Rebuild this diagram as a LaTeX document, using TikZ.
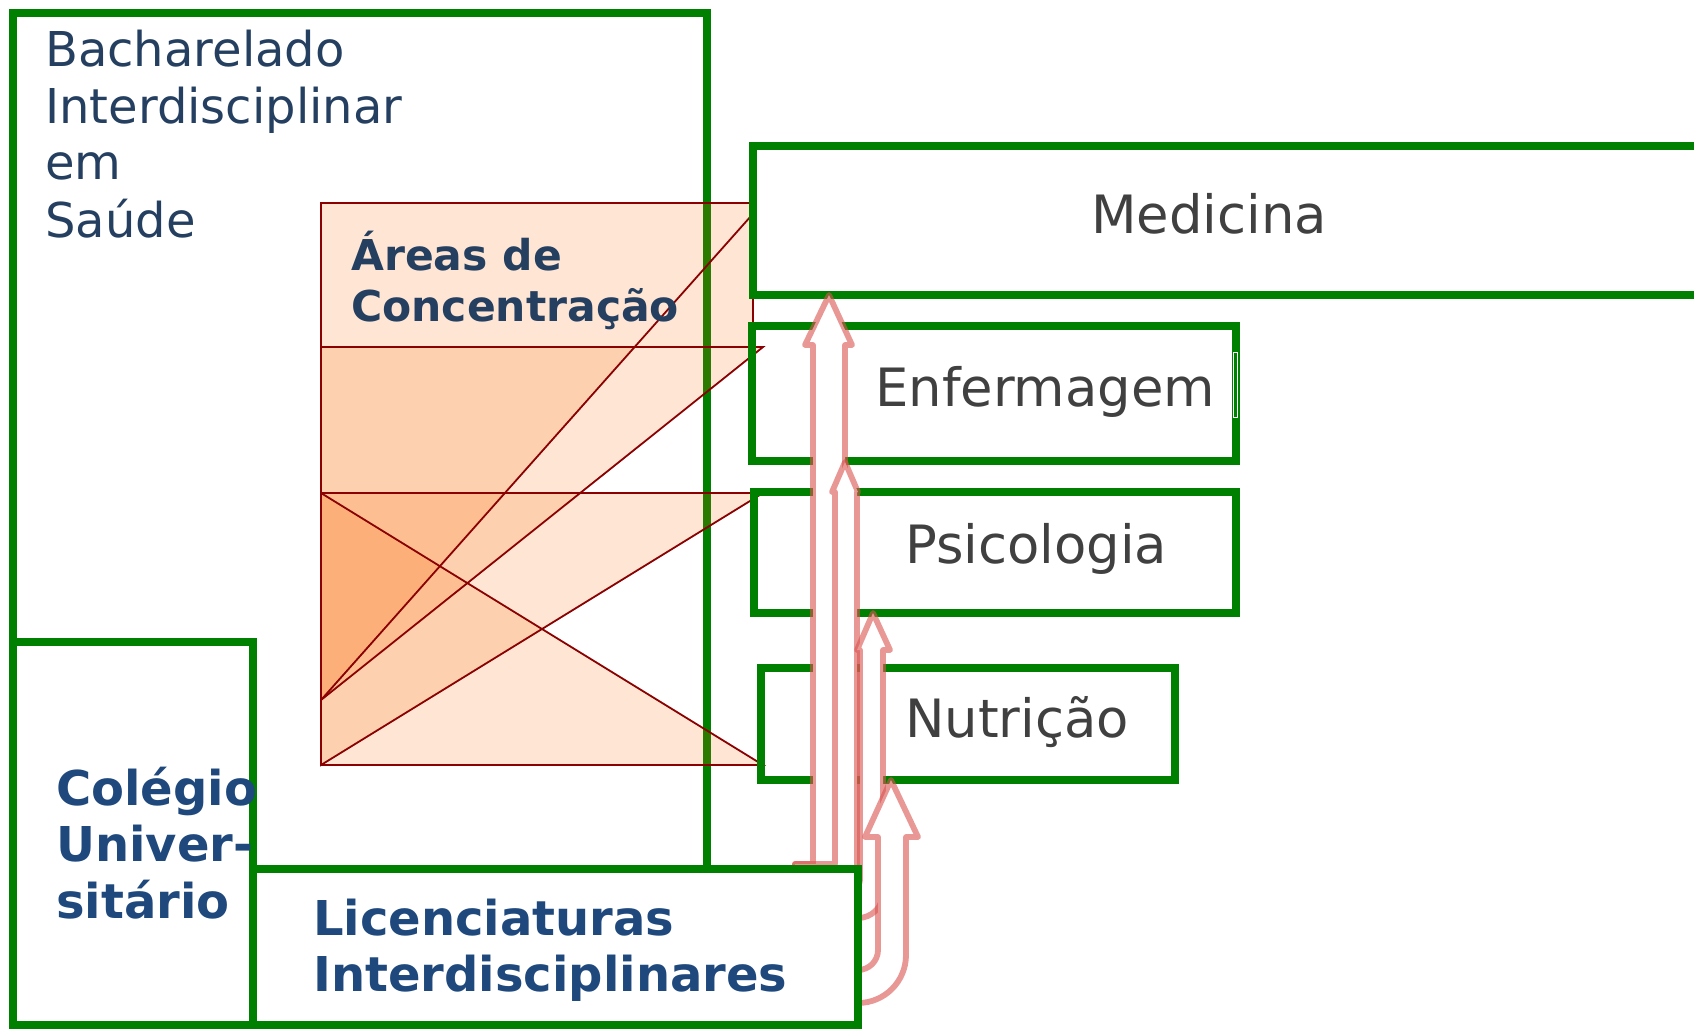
\documentclass[tikz,border=0pt]{standalone}
\usepackage{fontspec}
\setmainfont{DejaVu Sans}
\definecolor{grn}{RGB}{0,128,0}
\definecolor{navy}{RGB}{36,63,96}
\definecolor{blu}{RGB}{31,73,125}
\definecolor{txt}{RGB}{64,64,64}
\definecolor{orng}{RGB}{250,102,0}
\definecolor{edge}{RGB}{139,0,0}
\definecolor{arr}{RGB}{217,83,79}
\begin{document}
\begin{tikzpicture}[x=1pt,y=-1pt,
  gbox/.style={draw=grn,line width=7.5pt},
  lab/.style={anchor=base west,inner sep=0pt,text=txt,font=\fontsize{52.8}{60}\selectfont},
  bis/.style={anchor=base west,inner sep=0pt,text=navy,font=\fontsize{48}{57}\selectfont},
  area/.style={anchor=base west,inner sep=0pt,text=navy,font=\bfseries\fontsize{42.5}{51}\selectfont},
  bl/.style={anchor=base west,inner sep=0pt,text=blu,font=\bfseries\fontsize{48}{56}\selectfont},
  layer/.style={fill=orng,fill opacity=0.17},
  eline/.style={draw=edge,line width=1.8pt,line join=miter},
  arrowshape/.style={draw=arr,draw opacity=0.6,fill=white,line width=5.8pt,line join=round}
]
\useasboundingbox (0,0) rectangle (1694,1029);
\clip (0,0) rectangle (1694,1029);

% Bacharelado box
\draw[gbox] (13,13) rectangle (707,1025);
\node[bis] (b1) at (45,66) {Bacharelado};
\node[bis] (b2) at (45,123) {Interdisciplinar};
\node[bis] (b3) at (45,179) {em};
\node[bis] (b4) at (45,237) {Saúde};

% Areas de concentracao (overlapping translucent layers)
\fill[layer] (321,203) rectangle (753,347);
\fill[layer] (321,347) -- (634.6,347) -- (321,700) -- cycle;
\fill[layer] (321,347) -- (763,347) -- (321,700) -- cycle;
\fill[layer] (321,493) -- (763,493) -- (321,765) -- cycle;
\fill[layer] (321,493) -- (763,765) -- (321,765) -- cycle;
\draw[eline] (321,203) rectangle (753,347);
\draw[eline] (751,216) -- (321,700);
\draw[eline] (321,347) -- (763,347) -- (321,700) -- cycle;
\draw[eline] (321,493) -- (763,493) -- (321,765) -- cycle;
\draw[eline] (321,493) -- (763,765) -- (321,765) -- cycle;
\node[area] (a1) at (351,270) {Áreas de};
\node[area] (a2) at (351,321) {Concentração};

% course boxes
\draw[gbox] (753,146) rectangle (1705,295);
\draw[gbox] (752,326) rectangle (1236,461);
\draw[draw=white,line width=0.8pt] (1233,352) rectangle (1237,417);
\draw[gbox] (754,492) rectangle (1236,613);
\draw[gbox] (761,668) rectangle (1175,780);
\node[lab] (med) at (1091,233) {Medicina};
\node[lab] (enf) at (875,406) {Enfermagem};
\node[lab] (psi) at (905,563) {Psicologia};
\node[lab] (nut) at (905,737) {Nutrição};

% arrows
\draw[arrowshape] (829,295) -- (852,345) -- (845,345) -- (845,905) -- (795,905)
  -- (795,864) -- (813,864) -- (813,345) -- (805,345) -- cycle;
\draw[arrowshape] (845,462) -- (858,492) -- (857,492) -- (857,893) -- (795,893)
  -- (795,864) -- (835,864) -- (835,492) -- (832,492) -- cycle;
\draw[arrowshape] (873,613) -- (890,650) -- (883,650) -- (883,893)
  .. controls (883,906.8) and (871.8,918) .. (858,918) -- (840,918) -- (840,888)
  -- (852,888) .. controls (856.4,888) and (860,884.4) .. (860,880)
  -- (860,650) -- (857,650) -- cycle;
\draw[arrowshape] (891,780) -- (918,837) -- (906,837) -- (906,955)
  .. controls (906,981.5) and (884.5,1003) .. (858,1003) -- (840,1003) -- (840,970)
  -- (858,970) .. controls (869,970) and (878,961) .. (878,950)
  -- (878,837) -- (865,837) -- cycle;

% Colegio and Licenciaturas
\draw[gbox,fill=white] (13,642) rectangle (253,1025);
\draw[gbox,fill=white] (253,869) rectangle (858,1025);
\node[bl] (c1) at (56,805) {Colégio};
\node[bl] (c2) at (56,861) {Univer-};
\node[bl] (c3) at (56,918) {sitário};
\node[bl] (l1) at (313,935) {Licenciaturas};
\node[bl] (l2) at (313,991) {Interdisciplinares};
\end{tikzpicture}
\end{document}
